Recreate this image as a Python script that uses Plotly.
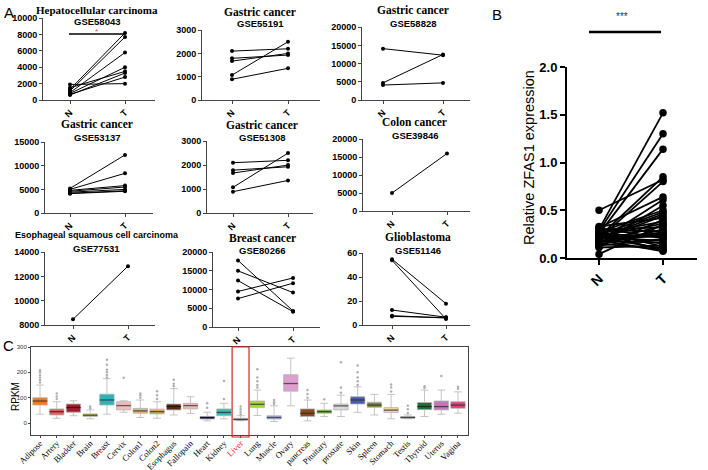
import plotly.graph_objects as go

W, H = 708, 470

# ---------------- Panel A data ----------------
hcc_N = [1900, 1500, 1300, 1100, 900, 800, 700, 600]
hcc_T = [2000, 3500, 8200, 7700, 5800, 4000, 2800, 3300]
gc55191_N = [2100, 1790, 1670, 1070, 890]
gc55191_T = [2200, 1930, 2000, 2500, 1360]
gc58828_N = [14100, 4700, 4100]
gc58828_T = [12300, 12500, 4700]
gc53137_N = [5200, 5000, 4800, 4600, 4400, 4200, 4100]
gc53137_T = [12300, 8400, 5800, 5500, 5000, 4700, 4600]
gc51308_N = [2100, 1790, 1670, 1070, 890]
gc51308_T = [2200, 1930, 2000, 2500, 1360]
colon_N = [5000]
colon_T = [16000]
escc_N = [8470]
escc_T = [12860]
breast_N = [17800, 15000, 12400, 9500, 7600]
breast_T = [4300, 9200, 4100, 13100, 11700]
gbm_N = [55, 54, 12.5, 7.8, 7.2]
gbm_T = [17.8, 5.0, 6.5, 5.8, 6.2]

a_titles = ["Hepatocellular carcinoma", "Gastric cancer", "Gastric cancer",
            "Gastric cancer", "Gastric cancer", "Colon cancer",
            "Esophageal squamous cell carcinoma", "Breast cancer", "Glioblastoma"]
a_gse = ["GSE58043", "GSE55191", "GSE58828", "GSE53137", "GSE51308",
         "GSE39846", "GSE77531", "GSE80266", "GSE51146"]
group_labels = ["N", "T"]

# ---------------- Panel B data ----------------
b_N = [0.50, 0.30, 0.28, 0.25, 0.22, 0.20, 0.32, 0.18, 0.15, 0.27, 0.24, 0.21, 0.19,
       0.33, 0.12, 0.26, 0.23, 0.17, 0.30, 0.14, 0.29, 0.20, 0.16, 0.25, 0.31, 0.13,
       0.22, 0.18, 0.24, 0.11, 0.28, 0.21, 0.15, 0.26, 0.19, 0.04, 0.23, 0.17]
b_T = [0.82, 1.52, 1.30, 1.14, 0.85, 0.80, 0.64, 0.61, 0.55, 0.50, 0.48, 0.46, 0.44,
       0.42, 0.40, 0.38, 0.36, 0.34, 0.32, 0.30, 0.28, 0.26, 0.25, 0.23, 0.21, 0.20,
       0.18, 0.16, 0.15, 0.13, 0.12, 0.10, 0.09, 0.08, 0.07, 0.35, 0.22, 0.27]

# ---------------- Panel C data ----------------
tissues = ["Adipose", "Artery", "Bladder", "Brain", "Breast", "Cervix", "Colon1", "Colon2",
           "Esophagus", "Fallopain", "Heart", "Kidney", "Liver", "Lung", "Muscle", "Ovary",
           "pancreas", "Pituitary", "prostate", "Skin", "Spleen", "Stomach", "Testis",
           "Thyroid", "Uterus", "Vagina"]
c_q1 = [71, 32, 43, 26, 71, 52, 39, 36, 52, 56, 16, 29, 12, 61, 16, 126, 26, 39, 52, 75, 62, 42, 19, 53, 52, 58]
c_med = [87, 45, 61, 31, 91, 69, 48, 45, 65, 69, 22, 42, 14, 74, 22, 156, 39, 45, 68, 91, 71, 51, 22, 65, 65, 71]
c_q3 = [100, 56, 75, 36, 114, 84, 58, 55, 75, 78, 26, 56, 19, 87, 29, 191, 56, 52, 75, 104, 82, 61, 26, 81, 87, 84]
c_lo = [35, 19, 29, 17, 35, 43, 22, 19, 32, 38, 9, 17, 9, 30, 6, 68, 9, 26, 26, 42, 32, 17, 17, 26, 35, 39]
c_hi = [150, 84, 88, 52, 175, 88, 91, 84, 136, 104, 43, 78, 29, 130, 68, 256, 91, 78, 110, 143, 113, 113, 32, 130, 130, 123]
c_outliers = [[160, 170, 180, 190, 200, 208], [95, 105, 117], [], [58, 65],
              [180, 190, 200, 210, 230, 250], [179], [100, 110, 117], [95, 110, 126],
              [145, 155, 171], [], [60, 78], [95, 166], [35, 45, 55, 65],
              [140, 150, 165, 180, 212], [75, 82, 91], [], [100, 115, 130], [94],
              [120, 140, 240], [150, 165, 180, 200, 227], [], [125, 140, 152],
              [40, 55, 68], [138, 145], [186], [135, 143]]
c_colors = ["#F07A1E", "#E8575A", "#A31A2A", "#B6C22A", "#2BB5B8", "#F2BCBC", "#E6B574",
            "#D9A865", "#5A2A10", "#F0B8B5", "#2E2A6E", "#3FB9B0", "#8A8A8A", "#A6D63A",
            "#A4A8D8", "#DCA0CE", "#8A4A1E", "#6AAE4A", "#D8D8D8", "#4A5AB0", "#7A8A4A",
            "#F2D59A", "#9A9A9A", "#1E6E3A", "#C478B8", "#E0407A"]


def px(x):
    return x / W


def py(y):
    return 1 - y / H


SANS = "Liberation Sans, Arial, sans-serif"
SERIF = "Liberation Serif, Times New Roman, serif"

fig = go.Figure()
layout = dict(template="none", width=W, height=H, margin=dict(l=0, r=0, t=0, b=0, pad=0),
              paper_bgcolor="white", plot_bgcolor="white", showlegend=False)
annotations = []
shapes = []

# geometry of panel A subplots: (left, right, Npx, Tpx, top, bottom, yrange, dtick)
a_geo = [
    (43, 155, 70, 125, 18, 100, [0, 10000], 2000),
    (202, 320, 232, 288, 30, 100, [0, 3000], 1000),
    (362, 470, 383, 443, 27, 100, [0, 20000], 5000),
    (45, 153, 70, 125, 142, 213, [0, 15000], 5000),
    (207, 313, 233, 288, 141, 213, [0, 3000], 1000),
    (363, 470, 392, 447, 139, 211, [0, 20000], 5000),
    (45, 155, 73, 128, 252, 325, [8000, 14000], 2000),
    (213, 320, 238, 293, 252, 327, [0, 20000], 5000),
    (363, 470, 392, 446, 253, 325, [0, 60], 20),
]
a_data = [(hcc_N, hcc_T), (gc55191_N, gc55191_T), (gc58828_N, gc58828_T),
          (gc53137_N, gc53137_T), (gc51308_N, gc51308_T), (colon_N, colon_T),
          (escc_N, escc_T), (breast_N, breast_T), (gbm_N, gbm_T)]
title_pos = [(97, 10, 22), (260, 12, 24), (413, 10, 24), (97, 124, 137), (262, 125, 137),
             (415, 122, 135), (97, 235, 248), (262, 238, 250), (418, 237, 250)]

for i, ((left, right, nx, tx, top, bot, yr, dt), (Nv, Tv)) in enumerate(zip(a_geo, a_data)):
    k = i + 1
    xa = "x" if k == 1 else f"x{k}"
    ya = "y" if k == 1 else f"y{k}"
    span = tx - nx
    for n, t in zip(Nv, Tv):
        fig.add_trace(go.Scatter(x=[0, 1], y=[n, t], mode="lines+markers",
                                 line=dict(color="black", width=1),
                                 marker=dict(color="black", size=4),
                                 xaxis=xa, yaxis=ya, cliponaxis=False, hoverinfo="skip"))
    tv = list(range(yr[0], yr[1] + 1, dt))
    layout["xaxis" if k == 1 else f"xaxis{k}"] = dict(
        domain=[px(left), px(right)], range=[(left - nx) / span, (right - nx) / span],
        anchor=ya, automargin=False, showgrid=False, zeroline=False, showline=True,
        linecolor="#444", linewidth=1, ticks="outside", ticklen=3, tickcolor="#444",
        tickvals=[0, 1], ticktext=group_labels, tickangle=-45, ticklabeloverflow="allow",
        tickfont=dict(family=SANS, size=9, color="black", weight="bold"))
    layout["yaxis" if k == 1 else f"yaxis{k}"] = dict(
        domain=[py(bot), py(top)], range=[yr[0], yr[1] * 1.002], anchor=xa,
        automargin=False, showgrid=False, zeroline=False, showline=True, linecolor="#444",
        linewidth=1, ticks="outside", ticklen=3, tickcolor="#444", tickmode="array",
        tickvals=tv, ticktext=[str(v) for v in tv], ticklabeloverflow="allow",
        tickfont=dict(family=SANS, size=9, color="black", weight="bold"))
    cx, ty, gy = title_pos[i]
    tfam = SANS if i == 6 else SERIF
    tsize = 9 if i == 6 else (11 if i == 0 else 11.5)
    annotations.append(dict(x=px(cx), y=py(ty), xref="paper", yref="paper",
                            text=f"<b>{a_titles[i]}</b>", showarrow=False,
                            font=dict(family=tfam, size=tsize, color="black"),
                            xanchor="center", yanchor="middle"))
    annotations.append(dict(x=px(cx), y=py(gy), xref="paper", yref="paper",
                            text=f"<b>{a_gse[i]}</b>", showarrow=False,
                            font=dict(family=SANS, size=9.5, color="black"),
                            xanchor="center", yanchor="middle"))

# significance in HCC
shapes.append(dict(type="line", xref="paper", yref="paper", x0=px(69), x1=px(125),
                   y0=py(34), y1=py(34), line=dict(color="black", width=1.5)))
annotations.append(dict(x=px(96), y=py(31), xref="paper", yref="paper", text="*",
                        showarrow=False, font=dict(family=SANS, size=8, color="#E8404A"),
                        xanchor="center", yanchor="middle"))

# ---------------- Panel B ----------------
for n, t in zip(b_N, b_T):
    fig.add_trace(go.Scatter(x=[0, 1], y=[n, t], mode="lines+markers",
                             line=dict(color="black", width=1.8),
                             marker=dict(color="black", size=7.5),
                             xaxis="x10", yaxis="y10", cliponaxis=False, hoverinfo="skip"))
layout["xaxis10"] = dict(domain=[px(567), px(697)], range=[(567 - 599) / 64, (697 - 599) / 64],
                         anchor="y10", automargin=False, showgrid=False, zeroline=False,
                         showline=True, linecolor="black", linewidth=2, ticks="outside",
                         ticklen=5, tickwidth=2, tickcolor="black", tickvals=[0, 1],
                         ticktext=group_labels, tickangle=-45, ticklabeloverflow="allow",
                         tickfont=dict(family=SANS, size=14, color="black", weight="bold"))
layout["yaxis10"] = dict(domain=[py(258), py(67)], range=[0, 2.0], anchor="x10",
                         automargin=False, showgrid=False, zeroline=False, showline=True,
                         linecolor="black", linewidth=2, ticks="outside", ticklen=5,
                         tickwidth=2, tickcolor="black", dtick=0.5, tickformat=".1f",
                         ticklabeloverflow="allow",
                         tickfont=dict(family=SANS, size=13, color="black", weight="bold"))
annotations.append(dict(x=px(529), y=py(158), xref="paper", yref="paper",
                        text="Relative ZFAS1 expression", textangle=-90, showarrow=False,
                        font=dict(family=SANS, size=14.5, color="black"),
                        xanchor="center", yanchor="middle"))
shapes.append(dict(type="line", xref="paper", yref="paper", x0=px(589), x1=px(661),
                   y0=py(32), y1=py(32), line=dict(color="black", width=2.5)))
annotations.append(dict(x=px(622), y=py(16), xref="paper", yref="paper", text="***",
                        showarrow=False, font=dict(family=SANS, size=10, color="#333"),
                        xanchor="center", yanchor="middle"))

# ---------------- Panel C ----------------


def darker(hx, f=0.45):
    r, g, b = int(hx[1:3], 16), int(hx[3:5], 16), int(hx[5:7], 16)
    return f"rgb({int(r * f)},{int(g * f)},{int(b * f)})"


for i, t in enumerate(tissues):
    fig.add_trace(go.Box(x=[i], q1=[c_q1[i]], median=[c_med[i]], q3=[c_q3[i]],
                         lowerfence=[c_lo[i]], upperfence=[c_hi[i]],
                         fillcolor=c_colors[i], line=dict(color="#B5B5B5", width=0.8),
                         width=0.86, whiskerwidth=0.55, boxpoints=False,
                         xaxis="x11", yaxis="y11", hoverinfo="skip"))
    fig.add_trace(go.Scatter(x=[i - 0.43, i + 0.43], y=[c_med[i], c_med[i]], mode="lines",
                             line=dict(color=darker(c_colors[i]), width=1.3),
                             xaxis="x11", yaxis="y11", hoverinfo="skip"))
    if c_outliers[i]:
        fig.add_trace(go.Scatter(x=[i] * len(c_outliers[i]), y=c_outliers[i], mode="markers",
                                 marker=dict(color="#B0B0B0", size=2.5),
                                 xaxis="x11", yaxis="y11", hoverinfo="skip"))

c_ticktext = [f'<span style="color:#E02020">{t}</span>' if t == "Liver" else t for t in tissues]
layout["xaxis11"] = dict(domain=[px(31), px(468)], range=[-0.54, 25.6], anchor="y11",
                         automargin=False, showgrid=False, zeroline=False, showline=True,
                         mirror=True, linecolor="#444", linewidth=1, ticks="outside",
                         ticklen=2, tickcolor="#444", tickvals=list(range(len(tissues))),
                         ticktext=c_ticktext, tickangle=-45, ticklabeloverflow="allow",
                         ticklabelstandoff=-3,
                         tickfont=dict(family=SERIF, size=8.6, color="black"))
layout["yaxis11"] = dict(domain=[py(435), py(347)], range=[-47, 300], anchor="x11",
                         automargin=False, showgrid=False, zeroline=False, showline=True,
                         mirror=True, linecolor="#444", linewidth=1, ticks="outside",
                         ticklen=2, tickcolor="#444", tickvals=[0, 100, 200, 300],
                         ticklabeloverflow="allow",
                         tickfont=dict(family=SANS, size=6, color="#333"))
annotations.append(dict(x=px(15), y=py(397), xref="paper", yref="paper", text="RPKM",
                        textangle=-90, showarrow=False,
                        font=dict(family=SANS, size=10, color="black"),
                        xanchor="center", yanchor="middle"))
shapes.append(dict(type="rect", xref="x11", yref="paper", x0=11.49, x1=12.5,
                   y0=py(437), y1=py(347), line=dict(color="#E02020", width=1.2)))

# panel letters
for lbl, x, y in [("A", 9, 12), ("B", 497, 15), ("C", 8, 345)]:
    annotations.append(dict(x=px(x), y=py(y), xref="paper", yref="paper", text=lbl,
                            showarrow=False, font=dict(family=SANS, size=15, color="black"),
                            xanchor="center", yanchor="middle"))

layout["annotations"] = annotations
layout["shapes"] = shapes
fig.update_layout(**layout)
fig.write_html("out.html", config={"displayModeBar": False},
               post_script="document.body.style.margin='0px';")
